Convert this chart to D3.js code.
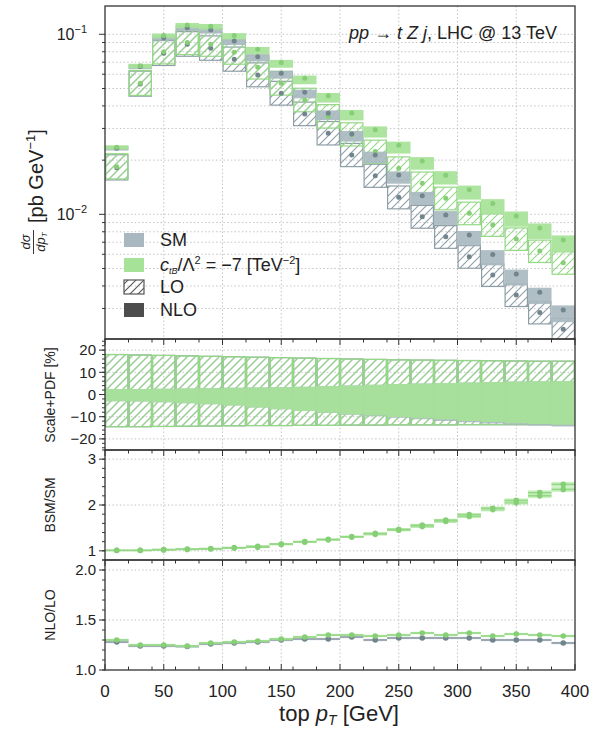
<!DOCTYPE html>
<html>
<head>
<meta charset="utf-8">
<script src="https://cdn.jsdelivr.net/npm/d3@7"></script>
<style>
body { margin: 0; background: #fff; }
text { font-family: "Liberation Sans", Arial, sans-serif; fill: #222; }
</style>
</head>
<body>
<svg id="chart" width="594" height="729"></svg>
<script>
// bins of top pT [GeV]
var binEdges = d3.range(0, 401, 20);

// main panel, dsigma/dpT [pb/GeV]
var smLO   = [0.01815, 0.0530, 0.0784, 0.0881, 0.0836, 0.0726, 0.0594, 0.0470, 0.0361, 0.0282,
              0.02135, 0.01638, 0.01243, 0.0097, 0.0075, 0.00581, 0.0046, 0.00356, 0.00285, 0.0023];
var smNLO  = [0.0233, 0.0662, 0.0958, 0.1088, 0.1057, 0.0918, 0.0751, 0.0607, 0.0476, 0.0364,
              0.0279, 0.02135, 0.01653, 0.01269, 0.00991, 0.00767, 0.00599, 0.00466, 0.00369, 0.00294];
var bsmLO  = [0.0184, 0.0535, 0.0800, 0.0900, 0.0880, 0.0794, 0.0656, 0.0534, 0.0431, 0.0350,
              0.0278, 0.0223, 0.01803, 0.01487, 0.01227, 0.01013, 0.00873, 0.0073, 0.00625, 0.00538];
var bsmNLO = [0.0236, 0.0669, 0.0985, 0.1125, 0.1110, 0.0985, 0.0825, 0.0698, 0.0570, 0.0455,
              0.0365, 0.0295, 0.0242, 0.0198, 0.0165, 0.0137, 0.0115, 0.0098, 0.0084, 0.0072];

// scale+PDF uncertainty [%]
var loUp      = [18, 17.8, 17.6, 17.4, 17.2, 17, 16.8, 16.6, 16.4, 16.2, 16, 15.8, 15.6, 15.5, 15.4, 15.3, 15.2, 15.1, 15, 15];
var loDown    = [-14.5, -14.5, -14.4, -14.3, -14.2, -14.1, -14, -14, -13.9, -13.9, -13.8, -13.8, -13.7, -13.7, -13.7, -13.6, -13.6, -13.6, -13.6, -13.6];
var nloUp     = [2.5, 2.5, 2.6, 2.7, 2.8, 3.0, 3.1, 3.3, 3.5, 3.8, 4.1, 4.4, 4.7, 5.0, 5.2, 5.4, 5.6, 5.8, 6.0, 6.1];
var bsmNloDown = [-3, -3.2, -3.5, -3.9, -4.4, -5, -5.8, -6.6, -7.4, -8.2, -8.9, -9.5, -10.1, -10.7, -11.3, -11.9, -12.4, -12.9, -13.3, -13.6];
var smNloDown  = [-3, -3.2, -3.5, -3.9, -4.4, -5, -5.8, -6.6, -7.4, -8.3, -9.1, -9.8, -10.5, -11.2, -11.9, -12.5, -13.1, -13.6, -14.0, -14.4];

// BSM/SM
var ratioLO  = [1.01, 1.01, 1.02, 1.03, 1.04, 1.06, 1.08, 1.14, 1.19, 1.24, 1.30, 1.36, 1.45, 1.53, 1.64, 1.75, 1.90, 2.05, 2.20, 2.34];
var ratioNLO = [1.01, 1.01, 1.03, 1.04, 1.05, 1.07, 1.10, 1.15, 1.20, 1.25, 1.31, 1.38, 1.47, 1.56, 1.67, 1.79, 1.93, 2.10, 2.27, 2.45];
var ratioErr = [0.01, 0.01, 0.01, 0.01, 0.01, 0.015, 0.015, 0.015, 0.02, 0.02, 0.02, 0.025, 0.025, 0.03, 0.03, 0.035, 0.04, 0.045, 0.05, 0.055];

// NLO/LO
var kSM  = [1.28, 1.24, 1.24, 1.235, 1.26, 1.27, 1.28, 1.30, 1.31, 1.31, 1.33, 1.30, 1.32, 1.32, 1.32, 1.32, 1.30, 1.30, 1.30, 1.27];
var kBSM = [1.30, 1.25, 1.25, 1.24, 1.27, 1.28, 1.29, 1.31, 1.33, 1.35, 1.35, 1.34, 1.35, 1.37, 1.35, 1.37, 1.34, 1.36, 1.35, 1.34];
var kErr = 0.012;

var xTicks = d3.range(0, 401, 50);
var xMinor = d3.range(20, 400, 20).filter(function(v){ return v % 50 != 0; });

var gray = {fill: "#a9b8c0", line: "#8e9ea7", dot: "#72848d", band: "#b9c6cc"};
var green = {fill: "#a6e297", line: "#94d885", dot: "#86cf76", band: "#bdebb1"};

var svg = d3.select("#chart");
var defs = svg.append("defs");

function hatch(id, color)
{
    var p = defs.append("pattern")
        .attr("id", id)
        .attr("patternUnits", "userSpaceOnUse")
        .attr("width", 8)
        .attr("height", 8);
    p.append("path")
        .attr("d", "M0,8 L8,0 M-1,1 L1,-1 M7,9 L9,7")
        .attr("stroke", color)
        .attr("stroke-width", 1.1);
}
hatch("hGray", "#8e9ea7");
hatch("hGreen", "#94d885");
hatch("hDark", "#555");

var left = 105, right = 575;
var x = d3.scaleLinear().domain([0, 400]).range([left, right]);

var yMain = d3.scaleLog().domain([0.00203, 0.1436]).range([339, 6]);
var yUnc  = d3.scaleLinear().domain([-25, 25]).range([450, 339]);
var yBsm  = d3.scaleLinear().domain([0.8, 3.2]).range([560, 450]);
var yK    = d3.scaleLinear().domain([1, 2.1]).range([670, 560]);

function clip(id, top, bottom)
{
    defs.append("clipPath").attr("id", id)
      .append("rect")
        .attr("x", left).attr("y", top)
        .attr("width", right - left).attr("height", bottom - top);
}

// grid, ticks and frame of one panel
function panel(name, y, top, bottom, major, minor, fmt, hGrid, topTicks, bottomTicks)
{
    clip("clip-" + name, top, bottom);
    var g = svg.append("g").attr("class", "grid");
    xTicks.slice(1, -1).forEach(function(v){
        g.append("line")
            .attr("x1", x(v)).attr("x2", x(v))
            .attr("y1", top).attr("y2", bottom)
            .attr("stroke", "#c4c4c4").attr("stroke-dasharray", "1.5,2.2");
    });
    hGrid.forEach(function(v){
        g.append("line")
            .attr("x1", left).attr("x2", right)
            .attr("y1", y(v)).attr("y2", y(v))
            .attr("stroke", "#c4c4c4").attr("stroke-dasharray", "1.5,2.2");
    });

    var t = svg.append("g").attr("class", "ticks").attr("stroke", "#333").attr("stroke-width", 1);
    major.forEach(function(v){
        t.append("line").attr("x1", left - 6).attr("x2", left).attr("y1", y(v)).attr("y2", y(v));
        svg.append("text")
            .attr("x", left - 9).attr("y", y(v)).attr("dy", "0.35em")
            .attr("text-anchor", "end")
            .style("font-size", "15px")
            .text(fmt(v));
    });
    minor.forEach(function(v){
        t.append("line").attr("x1", left - 3).attr("x2", left).attr("y1", y(v)).attr("y2", y(v));
    });
    function xt(ypos, dir)
    {
        xTicks.forEach(function(v){
            t.append("line").attr("x1", x(v)).attr("x2", x(v)).attr("y1", ypos).attr("y2", ypos + dir * 6);
        });
        xMinor.forEach(function(v){
            t.append("line").attr("x1", x(v)).attr("x2", x(v)).attr("y1", ypos).attr("y2", ypos + dir * 3.5);
        });
    }
    if(topTicks) xt(top, 1);
    if(bottomTicks) xt(bottom, -1);

    return svg.append("g").attr("clip-path", "url(#clip-" + name + ")");
}

function frame(top, bottom)
{
    svg.append("rect")
        .attr("x", left).attr("y", top)
        .attr("width", right - left).attr("height", bottom - top)
        .attr("fill", "none").attr("stroke", "#333").attr("stroke-width", 1.3);
}

function bx0(i){ return x(binEdges[i]); }
function bx1(i){ return x(binEdges[i + 1]); }
function bxc(i){ return (bx0(i) + bx1(i)) / 2; }

// ---------- main panel ----------
var mainMinor = [];
[0.001, 0.01, 0.1].forEach(function(dec){
    d3.range(2, 10).forEach(function(k){
        var v = dec * k;
        if(v > 0.00203 && v < 0.1436) mainMinor.push(v);
    });
});
var gMain = panel("main", yMain, 6, 339, [0.01, 0.1], mainMinor, function(){ return ""; },
                  mainMinor.concat([0.01, 0.1]), false, false);

// 10^-n labels
[[0.1, "\u22121"], [0.01, "\u22122"]].forEach(function(p){
    var tx = svg.append("text")
        .attr("x", left - 18).attr("y", yMain(p[0]) + 6)
        .attr("text-anchor", "end")
        .style("font-size", "16px");
    tx.append("tspan").text("10");
    tx.append("tspan").attr("dy", -7).style("font-size", "11px").text(p[1]);
});

function hatchBoxes(g, vals, up, down, c, pat)
{
    g.append("g").selectAll("rect")
        .data(vals)
      .enter().append("rect")
        .attr("x", function(d, i){ return bx0(i) + 0.6; })
        .attr("width", function(d, i){ return bx1(i) - bx0(i) - 1.2; })
        .attr("y", function(d, i){ return yMain(d * (1 + up[i] / 100)); })
        .attr("height", function(d, i){ return yMain(d * (1 + down[i] / 100)) - yMain(d * (1 + up[i] / 100)); })
        .attr("fill", "url(#" + pat + ")")
        .attr("stroke", c.line)
        .attr("stroke-width", 1.2);
}
function solidBoxes(g, vals, up, down, c)
{
    g.append("g").selectAll("rect")
        .data(vals)
      .enter().append("rect")
        .attr("x", function(d, i){ return bx0(i); })
        .attr("width", function(d, i){ return bx1(i) - bx0(i); })
        .attr("y", function(d, i){ return yMain(d * (1 + up[i] / 100)); })
        .attr("height", function(d, i){ return yMain(d * (1 + down[i] / 100)) - yMain(d * (1 + up[i] / 100)); })
        .attr("fill", c.fill)
        .attr("opacity", 0.92);
}
function dots(g, vals, y, c, r)
{
    g.append("g").selectAll("circle")
        .data(vals)
      .enter().append("circle")
        .attr("cx", function(d, i){ return bxc(i); })
        .attr("cy", function(d){ return y(d); })
        .attr("r", r)
        .attr("fill", c.dot);
}

hatchBoxes(gMain, smLO, loUp, loDown, gray, "hGray");
hatchBoxes(gMain, bsmLO, loUp, loDown, green, "hGreen");
solidBoxes(gMain, smNLO, nloUp, smNloDown, gray);
solidBoxes(gMain, bsmNLO, nloUp, bsmNloDown, green);
dots(gMain, smLO, yMain, gray, 2.5);
dots(gMain, bsmLO, yMain, green, 2.5);
dots(gMain, smNLO, yMain, gray, 2.5);
dots(gMain, bsmNLO, yMain, green, 2.5);
frame(6, 339);

// title
var title = svg.append("text")
    .attr("x", 557).attr("y", 39)
    .attr("text-anchor", "end")
    .style("font-size", "18px");
title.append("tspan").style("font-style", "italic").text("pp");
title.append("tspan").text(" \u2192 ");
title.append("tspan").style("font-style", "italic").text("t Z j");
title.append("tspan").text(", LHC @ 13 TeV");

// legend
var legend = [
    {label: "SM", fill: gray.fill, y: 233},
    {label: "bsm", fill: green.fill, y: 258},
    {label: "LO", fill: "url(#hDark)", stroke: "#555", y: 280},
    {label: "NLO", fill: "#4d4d4d", y: 303}
];
legend.forEach(function(l){
    svg.append("rect")
        .attr("x", 124).attr("y", l.y)
        .attr("width", 20).attr("height", 14)
        .attr("fill", l.fill)
        .attr("stroke", l.stroke || "none")
        .attr("stroke-width", 1.2);
    var t = svg.append("text")
        .attr("x", 160).attr("y", l.y + 13)
        .style("font-size", "18px");
    if(l.label == "bsm")
    {
        t.append("tspan").style("font-style", "italic").text("c");
        t.append("tspan").attr("dy", 3).style("font-size", "9px").style("font-style", "italic").text("tB");
        t.append("tspan").attr("dy", -3).text("/\u039B");
        t.append("tspan").attr("dy", -7).style("font-size", "11px").text("2");
        t.append("tspan").attr("dy", 7).text(" = \u22127 [TeV");
        t.append("tspan").attr("dy", -7).style("font-size", "11px").text("\u22122");
        t.append("tspan").attr("dy", 7).text("]");
    }
    else
        t.text(l.label);
});

// y label of main panel
var yl = svg.append("g").attr("transform", "translate(46,254) rotate(-90)");
yl.append("text").attr("x", 12).attr("y", -16).attr("text-anchor", "middle")
    .style("font-size", "13px").style("font-style", "italic").text("d\u03C3");
yl.append("line").attr("x1", 0).attr("x2", 24).attr("y1", -12.5).attr("y2", -12.5)
    .attr("stroke", "#222").attr("stroke-width", 0.9);
var den = yl.append("text").attr("x", 12).attr("y", -1).attr("text-anchor", "middle")
    .style("font-size", "13px").style("font-style", "italic");
den.append("tspan").text("dp");
den.append("tspan").attr("dy", 2).style("font-size", "8px").text("T");
var br = yl.append("text").attr("x", 31).attr("y", -3).style("font-size", "20px");
br.append("tspan").text("[pb GeV");
br.append("tspan").attr("dy", -8).style("font-size", "13px").text("\u22121");
br.append("tspan").attr("dy", 8).text("]");

// ---------- scale+PDF panel ----------
var gUnc = panel("unc", yUnc, 339, 450, [-20, -10, 0, 10, 20], d3.range(-24, 25, 2),
                 function(v){ return v < 0 ? "\u2212" + (-v) : v; }, [-20, -10, 0, 10, 20], true, false);

function uncBoxes(c, pat)
{
    gUnc.append("g").selectAll("rect")
        .data(loUp)
      .enter().append("rect")
        .attr("x", function(d, i){ return bx0(i) + 0.6; })
        .attr("width", function(d, i){ return bx1(i) - bx0(i) - 1.2; })
        .attr("y", function(d){ return yUnc(d); })
        .attr("height", function(d, i){ return yUnc(loDown[i]) - yUnc(d); })
        .attr("fill", "url(#" + pat + ")")
        .attr("stroke", c.line)
        .attr("stroke-width", 1.2);
}
function uncBand(down, c)
{
    var pts = [];
    down.forEach(function(d, i){
        pts.push({x: binEdges[i], up: nloUp[i], down: d});
        pts.push({x: binEdges[i + 1], up: nloUp[i], down: d});
    });
    gUnc.append("path")
        .datum(pts)
        .attr("d", d3.area()
            .x(function(p){ return x(p.x); })
            .y0(function(p){ return yUnc(p.down); })
            .y1(function(p){ return yUnc(p.up); }))
        .attr("fill", c.fill)
        .attr("opacity", 0.9);
}
uncBoxes(gray, "hGray");
uncBoxes(green, "hGreen");
uncBand(smNloDown, gray);
uncBand(bsmNloDown, green);
frame(339, 450);

// ---------- ratio panels ----------
function ratioSeries(g, y, vals, err, c)
{
    var e = function(i){ return Array.isArray(err) ? err[i] : err; };
    g.append("g").selectAll("rect")
        .data(vals)
      .enter().append("rect")
        .attr("x", function(d, i){ return bx0(i); })
        .attr("width", function(d, i){ return bx1(i) - bx0(i); })
        .attr("y", function(d, i){ return y(d + e(i)); })
        .attr("height", function(d, i){ return y(d - e(i)) - y(d + e(i)); })
        .attr("fill", c.band)
        .attr("opacity", 0.75);
    g.append("g").selectAll("line")
        .data(vals)
      .enter().append("line")
        .attr("x1", function(d, i){ return bx0(i); })
        .attr("x2", function(d, i){ return bx1(i); })
        .attr("y1", function(d){ return y(d); })
        .attr("y2", function(d){ return y(d); })
        .attr("stroke", c.line)
        .attr("stroke-width", 1.6);
    dots(g, vals, y, c, 2.8);
}

var gBsm = panel("bsm", yBsm, 450, 560, [1, 2, 3], d3.range(0.8, 3.21, 0.2).map(function(v){ return +v.toFixed(1); }),
                 function(v){ return v; }, [1, 2, 3], true, false);
ratioSeries(gBsm, yBsm, ratioLO, ratioErr, green);
ratioSeries(gBsm, yBsm, ratioNLO, ratioErr, green);
frame(450, 560);

var gK = panel("k", yK, 560, 670, [1.0, 1.5, 2.0], d3.range(1.0, 2.11, 0.1).map(function(v){ return +v.toFixed(1); }),
               d3.format(".1f"), [1.5, 2.0], true, true);
ratioSeries(gK, yK, kSM, kErr, gray);
ratioSeries(gK, yK, kBSM, kErr, green);
frame(560, 670);

// panel labels
[["Scale+PDF [%]", 395], ["BSM/SM", 505], ["NLO/LO", 615]].forEach(function(p){
    svg.append("text")
        .attr("transform", "translate(55," + p[1] + ") rotate(-90)")
        .attr("text-anchor", "middle")
        .style("font-size", "14px")
        .text(p[0]);
});

// x axis labels
xTicks.forEach(function(v){
    svg.append("text")
        .attr("x", x(v)).attr("y", 697)
        .attr("text-anchor", "middle")
        .style("font-size", "17px")
        .text(v);
});
var xl = svg.append("text")
    .attr("x", 339).attr("y", 721)
    .attr("text-anchor", "middle")
    .style("font-size", "22px");
xl.append("tspan").text("top ");
xl.append("tspan").style("font-style", "italic").text("p");
xl.append("tspan").attr("dy", 4).style("font-size", "14px").style("font-style", "italic").text("T");
xl.append("tspan").attr("dy", -4).text(" [GeV]");
</script>
</body>
</html>
